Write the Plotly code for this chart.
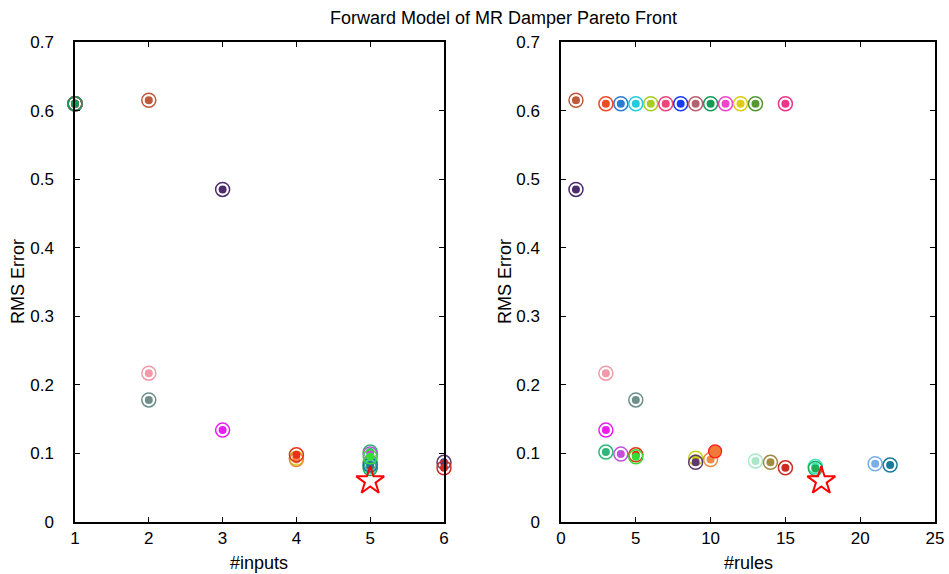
import plotly.graph_objects as go

# Candidate fuzzy models: number of inputs, number of rules, RMS error, colour
n_inputs = [1, 1, 1, 1, 1, 1, 1, 1, 1, 1, 1, 1,
            2, 3, 2, 2, 3,
            5, 5, 4, 6, 4, 4, 5, 5, 6, 5, 5, 5, 5, 5]
n_rules = [3, 4, 5, 6, 7, 8, 9, 11, 12, 13, 15, 10,
           1, 1, 3, 5, 3,
           3, 4, 9, 9, 10, 5, 13, 14, 15, 17, 17, 21, 22, 5]
rms_error = [0.610, 0.610, 0.610, 0.610, 0.610, 0.610, 0.610, 0.610, 0.610, 0.610, 0.610, 0.610,
             0.615, 0.485, 0.217, 0.178, 0.134,
             0.102, 0.099, 0.093, 0.087, 0.091, 0.098, 0.089, 0.087, 0.079, 0.081, 0.078, 0.085, 0.083, 0.095]
colors = ["#f04a23", "#2b7bd0", "#22ccdd", "#a8cc22", "#ee4477", "#1a3cf0", "#b86070",
          "#ee44cc", "#ddcc11", "#559933", "#ee3388", "#149a55",
          "#c0583a", "#4b2d6b", "#f09aaa", "#6f8f8a", "#e81ef0",
          "#2db87a", "#c050d8", "#c8d020", "#5e3a6e", "#f08a40", "#e8301a",
          "#a8e8c8", "#a08a40", "#cc2a22", "#33e8c0", "#22aa55", "#7aaee8", "#1a7a99", "#33dd33"]

# Extra highlighted model in the rules panel
hl_rules = [10.3]
hl_error = [0.103]

# Selected compromise model
best_inputs = [5]
best_rules = [17.4]
best_error = [0.060]

x_ticks_left = [1, 2, 3, 4, 5, 6]
x_ticks_right = [0, 5, 10, 15, 20, 25]
y_ticks = [0, 0.1, 0.2, 0.3, 0.4, 0.5, 0.6, 0.7]

FONT = "Liberation Sans, Arial, Helvetica, sans-serif"

fig = go.Figure()


def add_model(xv, yv, col, xa, ya):
    # open ring around a filled dot
    fig.add_trace(go.Scatter(x=[xv], y=[yv], mode="markers", xaxis=xa, yaxis=ya,
                             marker=dict(symbol="circle-open", size=14, color=col,
                                         line=dict(width=1.5, color=col)),
                             cliponaxis=False, showlegend=False, hoverinfo="skip"))
    fig.add_trace(go.Scatter(x=[xv], y=[yv], mode="markers", xaxis=xa, yaxis=ya,
                             marker=dict(symbol="circle", size=8, color=col, line=dict(width=0)),
                             cliponaxis=False, showlegend=False))


for i in range(len(rms_error)):
    add_model(n_inputs[i], rms_error[i], colors[i], "x", "y")
for i in range(len(rms_error)):
    add_model(n_rules[i], rms_error[i], colors[i], "x2", "y2")

fig.add_trace(go.Scatter(x=hl_rules, y=hl_error, mode="markers", xaxis="x2", yaxis="y2",
                         marker=dict(symbol="circle", size=13, color="#f07a3a",
                                     line=dict(width=1.2, color="#ff1a1a")),
                         showlegend=False))

for xv, xa, ya in [(best_inputs, "x", "y"), (best_rules, "x2", "y2")]:
    fig.add_trace(go.Scatter(x=xv, y=best_error, mode="markers", xaxis=xa, yaxis=ya,
                             marker=dict(symbol="star-open", size=21, color="#ff0000",
                                         line=dict(width=2, color="#ff0000")),
                             cliponaxis=False, showlegend=False))

axis_common = dict(showline=True, linecolor="black", linewidth=1.5, mirror="ticks",
                   ticks="inside", ticklen=5, tickwidth=1, tickcolor="black",
                   showgrid=False, zeroline=False, automargin=False,
                   tickfont=dict(size=17, color="black", family=FONT))


def label(text, px, py, size, angle=0):
    return dict(text=text, x=px / 949, y=1 - py / 574, xref="paper", yref="paper",
                xanchor="center", yanchor="middle", showarrow=False, textangle=angle,
                font=dict(size=size))


y_dom = [52 / 574, 532 / 574]
fig.update_layout(
    width=949, height=574,
    margin=dict(l=0, r=0, t=0, b=0),
    paper_bgcolor="white", plot_bgcolor="white",
    font=dict(family=FONT, color="black"),
    xaxis=dict(domain=[75 / 949, 444 / 949], range=[1, 6], tickvals=x_ticks_left, anchor="y", **axis_common),
    yaxis=dict(domain=y_dom, range=[0, 0.7], tickvals=y_ticks, anchor="x", ticklabelstandoff=16, **axis_common),
    xaxis2=dict(domain=[561 / 949, 935 / 949], range=[0, 25], tickvals=x_ticks_right, anchor="y2", **axis_common),
    yaxis2=dict(domain=y_dom, range=[0, 0.7], tickvals=y_ticks, anchor="x2", ticklabelstandoff=16, **axis_common),
    annotations=[
        label("Forward Model of MR Damper Pareto Front", 504, 18, 18),
        label("#inputs", 259, 563, 18),
        label("#rules", 748, 563, 18),
        label("RMS Error", 18, 282, 18, -90),
        label("RMS Error", 505, 282, 18, -90),
    ],
)

fig.write_html("out.html")
